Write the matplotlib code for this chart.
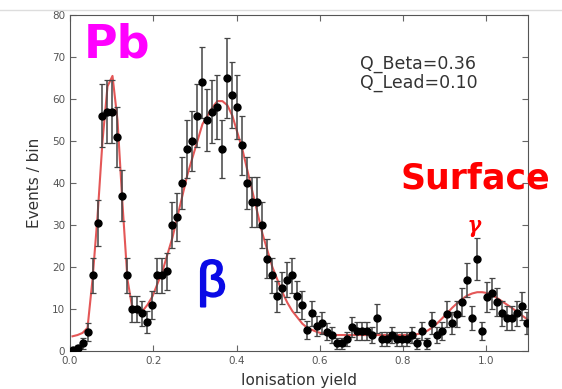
import numpy as np
import matplotlib
matplotlib.use("Agg")
from matplotlib import pyplot as plt
from matplotlib.lines import Line2D
import matplotlib.patheffects as pe

# histogram of ionisation yield, bins of 0.012
bin_width = 0.012
counts = [0.3, 0.6, 1.8, 4.5, 18, 30.5, 56, 57, 57, 51,
          37, 18, 10, 10, 9, 7, 11, 18, 18, 19,
          30, 32, 40, 48, 50, 56, 64, 55, 57, 58,
          48, 65, 61, 58, 49, 40, 35.5, 35.5, 30, 22,
          18, 13, 15, 17, 18, 13, 11, 5, 9, 6,
          6.7, 4.6, 3.8, 1.8, 1.8, 2.8, 5.8, 4.8, 4.8, 4.8,
          3.8, 7.8, 2.8, 2.8, 3.8, 2.8, 2.8, 2.8, 3.8, 1.8,
          4.8, 1.8, 6.7, 3.8, 4.8, 8.8, 6.7, 8.8, 11.7, 16.9,
          7.8, 21.9, 4.8, 12.8, 13.7, 11.7, 9, 7.8, 7.8, 9,
          10.7, 6.7]
errors = [0.6, 0.8, 1.3, 2.1, 4.2, 5.5, 7.5, 7.5, 7.5, 7.1,
          6.1, 4.2, 3.2, 3.2, 3.0, 2.6, 3.3, 4.2, 4.2, 4.4,
          5.5, 5.7, 6.3, 6.9, 7.1, 7.5, 8.5, 7.4, 7.5, 7.6,
          6.9, 9.5, 7.8, 7.6, 7.0, 6.3, 6.0, 6.0, 5.5, 4.7,
          4.2, 3.6, 3.9, 4.1, 4.2, 3.6, 3.3, 2.2, 3.0, 2.4,
          2.6, 2.1, 1.9, 1.3, 1.3, 1.7, 2.4, 2.2, 2.2, 2.2,
          1.9, 3.5, 1.7, 1.7, 1.9, 1.7, 1.7, 1.7, 1.9, 1.3,
          2.2, 1.3, 2.6, 1.9, 2.2, 3.0, 2.6, 3.0, 3.4, 4.1,
          2.8, 4.9, 2.2, 3.6, 3.7, 3.4, 3.0, 2.8, 2.8, 3.0,
          3.3, 2.6]
# fitted model evaluated at the bin centres
fit = [3.5, 3.8, 4.3, 5.5, 17, 32, 50, 63, 65.5, 55,
       35, 17, 10, 9.2, 9.5, 11, 13, 16, 19, 23,
       27, 32, 37, 42, 46, 50, 54, 56, 58, 59.5,
       59.5, 58.5, 56, 52, 48, 43, 38, 33, 28, 24,
       20, 17, 14, 11.5, 9.5, 8, 6.5, 5.5, 5, 4.5,
       4.2, 4, 3.9, 3.8, 3.8, 3.8, 3.8, 3.8, 3.8, 3.8,
       3.8, 3.8, 3.8, 3.8, 3.8, 3.8, 3.8, 3.8, 3.9, 4,
       4.3, 4.8, 5.6, 6.6, 7.8, 9, 10.3, 11.4, 12.4, 13.2,
       13.7, 14, 14, 13.8, 13.3, 12.6, 11.8, 11, 10.2, 9.3,
       8.4, 7.6]
q_beta = 0.36
q_lead = 0.10

x = bin_width / 2 + bin_width * np.arange(len(counts))

fig = plt.figure(figsize=(5.62, 3.89), dpi=100)
ax = fig.add_axes([0.1246, 0.0977, 0.8149, 0.8637])

ax.plot(x, fit, color="#e03a3a", lw=1.5, alpha=0.85, zorder=2)
ax.errorbar(x, counts, yerr=errors, fmt="o", color="black", ms=5,
            ecolor="#454545", elinewidth=1.1, capsize=2, capthick=0.9, zorder=3)

ax.set_xlim(0, 1.1)
ax.set_ylim(0, 80)
ax.set_xticks([0.0, 0.2, 0.4, 0.6, 0.8, 1.0])
ax.set_yticks(range(0, 81, 10))
ax.tick_params(direction="in", top=True, right=True, length=4,
               labelsize=7.5, labelcolor="#555555", color="#666666")
for s in ax.spines.values():
    s.set_color("#555555")
ax.set_xlabel("Ionisation yield", fontsize=11, color="#333333", labelpad=5)
ax.set_ylabel("Events / bin", fontsize=11, color="#333333", labelpad=7)

ax.text(0.633, 0.827, "Q_Beta=%.2f\nQ_Lead=%.2f" % (q_beta, q_lead),
        transform=ax.transAxes, fontsize=12.5, color="#333333",
        va="center", ha="left", linespacing=1.05)

fig.text(0.209, 0.885, "Pb", color="#ff00ff", fontsize=33, fontweight="bold",
         family="DejaVu Sans", ha="center", va="center")
fig.text(0.845, 0.541, "Surface", color="#ff0000", fontsize=25, fontweight="bold",
         family="DejaVu Sans", ha="center", va="center")
fig.text(0.844, 0.419, "\u03b3", color="#ff0000", fontsize=16,
         family="DejaVu Serif", style="italic", ha="center", va="center",
         path_effects=[pe.withStroke(linewidth=0.6, foreground="#ff0000")])
fig.text(0.377, 0.272, "\u03b2", color="#0a0ae6", fontsize=36,
         family="Liberation Sans", ha="center", va="center",
         path_effects=[pe.withStroke(linewidth=1.4, foreground="#0a0ae6")])

fig.add_artist(Line2D([0, 1], [0.975, 0.975], transform=fig.transFigure,
                      color="#dddddd", lw=1))

fig.savefig("out.png", dpi=100)
